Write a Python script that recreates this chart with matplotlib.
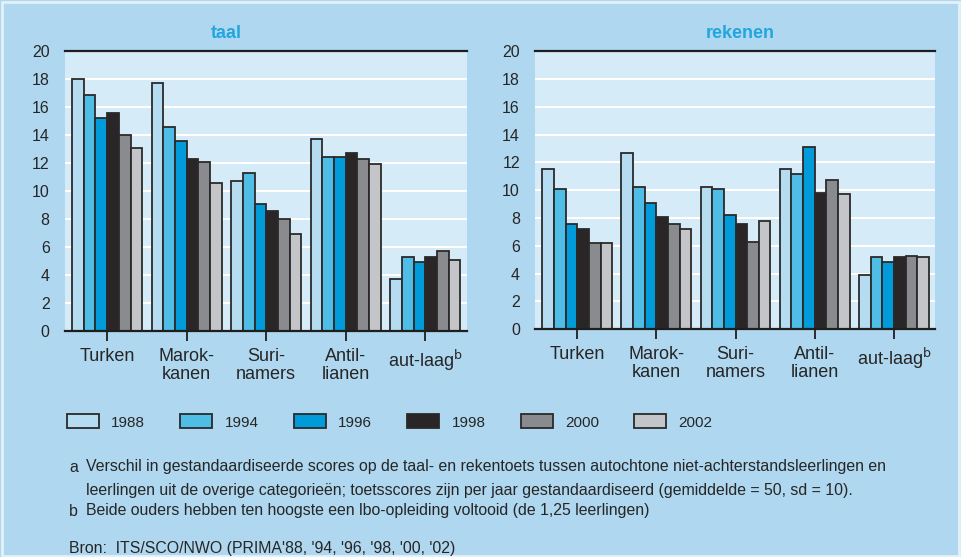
import matplotlib

matplotlib.use("Agg")
import matplotlib.pyplot as plt
import numpy as np
from matplotlib.patches import Patch, Rectangle

plt.rcParams["font.family"] = ["Liberation Sans Narrow", "Liberation Sans", "DejaVu Sans"]
plt.rcParams["mathtext.fontset"] = "custom"
plt.rcParams["mathtext.rm"] = "Liberation Sans Narrow"

categories = ["Turken", "Marok-\nkanen", "Suri-\nnamers", "Antil-\nlianen", "aut-laag$^{\\mathrm{b}}$"]
years = ["1988", "1994", "1996", "1998", "2000", "2002"]

# rows = years, columns = categories
taal = [
    [18.0, 17.7, 10.7, 13.7, 3.7],
    [16.9, 14.6, 11.3, 12.4, 5.3],
    [15.2, 13.6, 9.1, 12.4, 4.9],
    [15.6, 12.3, 8.6, 12.7, 5.3],
    [14.0, 12.1, 8.0, 12.3, 5.7],
    [13.1, 10.6, 6.9, 11.9, 5.1],
]
rekenen = [
    [11.5, 12.7, 10.2, 11.5, 3.9],
    [10.1, 10.2, 10.1, 11.2, 5.2],
    [7.6, 9.1, 8.2, 13.1, 4.8],
    [7.2, 8.1, 7.6, 9.8, 5.2],
    [6.2, 7.6, 6.3, 10.7, 5.3],
    [6.2, 7.2, 7.8, 9.7, 5.2],
]

colors = ["#b5dcf1", "#50bde6", "#009bd8", "#2a2627", "#8a8b8f", "#c4c5c9"]
fig_bg = "#afd7ef"
ax_bg = "#d5ebf7"
title_color = "#22a6df"
text_color = "#262626"

fig = plt.figure(figsize=(9.61, 5.57), dpi=100, facecolor=fig_bg)
fig.patches.append(Rectangle((0.002, 0.002), 0.996, 0.994, transform=fig.transFigure,
                             fill=False, edgecolor="#e4f1f9", linewidth=2))


def draw_panel(rect, data):
    ax = fig.add_axes(rect)
    ax.set_facecolor(ax_bg)
    x = np.arange(len(categories))
    w = 0.147
    for i, vals in enumerate(data):
        ax.bar(x + (i - 2.5) * w, vals, width=w, color=colors[i],
               edgecolor="#2a2a2a", linewidth=1.3, zorder=3)
    ax.set_ylim(0, 20)
    ax.set_xlim(-0.53, 4.52)
    ax.set_yticks(range(0, 21, 2))
    ax.yaxis.grid(True, color="white", linewidth=1.5, zorder=1)
    ax.set_axisbelow(True)
    for s in ("left", "right"):
        ax.spines[s].set_visible(False)
    for s in ("top", "bottom"):
        ax.spines[s].set_color("#1e1e1e")
        ax.spines[s].set_linewidth(1.6)
    ax.spines["bottom"].set_zorder(4)
    ax.set_xticks(x)
    ax.set_xticklabels(categories, fontsize=13, color=text_color, linespacing=1.1)
    ax.tick_params(axis="x", length=7, width=1.3, color="#1e1e1e", pad=5)
    ax.tick_params(axis="y", length=0, pad=11, labelsize=11.5, labelcolor=text_color)
    return ax


draw_panel([0.0676, 0.406, 0.418, 0.502], taal)
draw_panel([0.557, 0.409, 0.416, 0.499], rekenen)

fig.text(226 / 961, 1 - 33 / 557, "taal", ha="center", va="center",
         fontsize=13, fontweight="bold", color=title_color)
fig.text(740 / 961, 1 - 33 / 557, "rekenen", ha="center", va="center",
         fontsize=13, fontweight="bold", color=title_color)

handles = [Patch(facecolor=c, edgecolor="#2a2a2a", linewidth=1.3) for c in colors]
fig.legend(handles, years, loc="center left", bbox_to_anchor=(53 / 961, 1 - 422 / 557),
           ncol=6, frameon=False, fontsize=11, handlelength=2.1, handleheight=1.0,
           handletextpad=0.8, columnspacing=2.3, labelcolor=text_color)

notes = [
    (69, 467, "a"),
    (86, 467, "Verschil in gestandaardiseerde scores op de taal- en rekentoets tussen autochtone "
              "niet-achterstandsleerlingen en"),
    (86, 490, "leerlingen uit de overige categorieën; toetsscores zijn per jaar gestandaardiseerd "
              "(gemiddelde = 50, sd = 10)."),
    (69, 511, "b"),
    (86, 511, "Beide ouders hebben ten hoogste een lbo-opleiding voltooid (de 1,25 leerlingen)"),
    (69, 548, "Bron:  ITS/SCO/NWO (PRIMA'88, '94, '96, '98, '00, '02)"),
]
for px, py, s in notes:
    fig.text(px / 961, 1 - py / 557, s, ha="left", va="center", fontsize=11.4, color=text_color)

fig.savefig("out.png", dpi=100, facecolor=fig_bg)
